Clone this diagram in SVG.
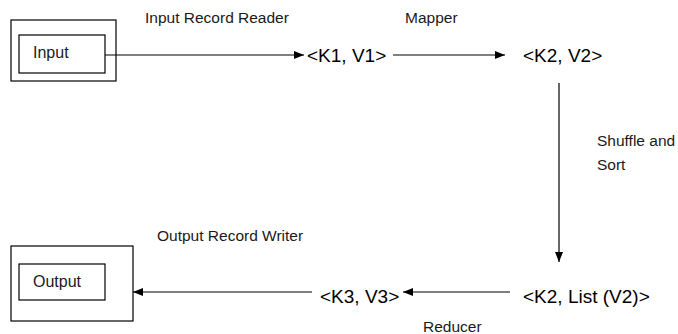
<svg xmlns="http://www.w3.org/2000/svg" width="678" height="334" viewBox="0 0 678 334">
<style>
.box{fill:none;stroke:#000;stroke-width:1.2}
.lbl{font-family:"Liberation Sans",Arial,sans-serif;font-size:15.5px;fill:#1a1a1a}
.in{font-family:"Liberation Sans",Arial,sans-serif;font-size:16px;fill:#1a1a1a}
.kv{font-family:"Liberation Sans",Arial,sans-serif;font-size:19px;fill:#000}
.edge{stroke:#000;stroke-width:1.2;fill:none;marker-end:url(#ah)}
</style>
<defs>
<marker id="ah" viewBox="0 0 10 8" refX="10" refY="4" markerWidth="10" markerHeight="8" markerUnits="userSpaceOnUse" orient="auto">
<path d="M0,0 L10,4 L0,8 z" fill="#000"/>
</marker>
</defs>
<rect width="678" height="334" fill="#fff"/>
<g id="connectors">
<line class="edge" x1="105" y1="55" x2="304" y2="55"/>
<line class="edge" x1="393" y1="55" x2="505" y2="55"/>
<line class="edge" x1="559" y1="83" x2="559" y2="262"/>
<line class="edge" x1="510" y1="292" x2="403" y2="292"/>
<line class="edge" x1="312" y1="292" x2="133" y2="292"/>
</g>
<g id="input">
<rect class="box" x="11" y="20" width="105" height="61"/>
<rect class="box" x="19" y="35" width="86" height="38"/>
<text class="in" x="33" y="58">Input</text>
</g>
<g id="output">
<rect class="box" x="11" y="246" width="122" height="75"/>
<rect class="box" x="19" y="264" width="86" height="36"/>
<text class="in" x="33" y="287">Output</text>
</g>
<g id="k1v1"><text class="kv" x="307" y="62">&lt;K1, V1&gt;</text></g>
<g id="k2v2"><text class="kv" x="523" y="62">&lt;K2, V2&gt;</text></g>
<g id="k2list"><text class="kv" x="523" y="303">&lt;K2, List (V2)&gt;</text></g>
<g id="k3v3"><text class="kv" x="320" y="303">&lt;K3, V3&gt;</text></g>
<g id="labels">
<text class="lbl" x="145" y="23">Input Record Reader</text>
<text class="lbl" x="405" y="23">Mapper</text>
<text class="lbl" x="597" y="146">Shuffle and</text>
<text class="lbl" x="597" y="170">Sort</text>
<text class="lbl" x="157" y="241">Output Record Writer</text>
<text class="lbl" x="423" y="332">Reducer</text>
</g>
</svg>
